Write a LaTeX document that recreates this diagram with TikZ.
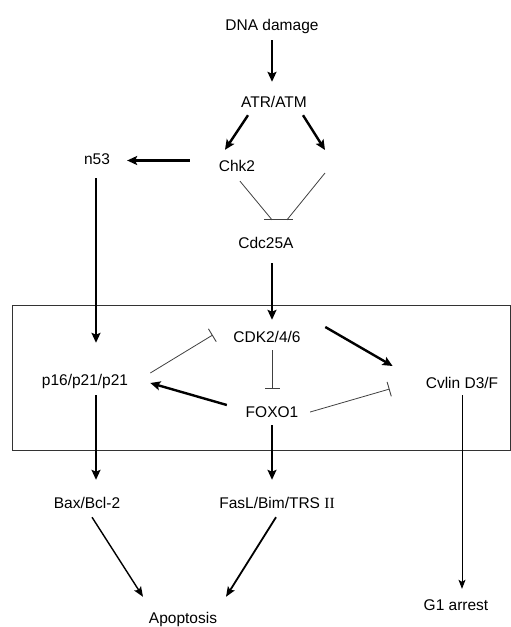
\documentclass[tikz,border=0pt]{standalone}
\usepackage{fontspec}
\setmainfont{Liberation Sans}
\newfontfamily\romanii{Liberation Serif}
\usetikzlibrary{arrows.meta,calc}
\tikzset{
  gene/.style={font=\fontsize{15.5}{18}\selectfont, inner sep=0pt,
               text height=11pt, text depth=3pt},
  act/.style={-{Stealth[length=10pt, width=9pt, inset=2pt]}, line width=2.4pt},
  actthin/.style={-{Stealth[length=10pt, width=8pt, inset=2pt]}, line width=1.4pt},
  actfine/.style={-{Stealth[length=9pt, width=7pt, inset=2pt]}, line width=0.9pt},
  inh/.style={-{Bar[width=15pt, line width=0.9pt]}, line width=0.8pt, black!75},
}
\begin{document}
\begin{tikzpicture}[x=1pt, y=-1pt]
  \useasboundingbox (0,0) rectangle (511,627);
  % the boxed cell-cycle module
  \node[draw=black!80, line width=1pt, minimum width=498pt, minimum height=145pt,
        inner sep=0pt] (cell) at (261,377.5) {};
  % upstream signalling
  \node[gene] (dna) at (272,26.5) {DNA damage};
  \node[gene] (atr) at (274,103.5) {ATR/ATM};
  \node[gene] (chk) at (237,167.5) {Chk2};
  \coordinate (rgt) at (325,162);
  \node[gene] (n53) at (97,160.5) {n53};
  \node[gene] (cdc) at (266,244.5) {Cdc25A};
  % inside the box
  \node[gene] (cdk) at (267,338.5) {CDK2/4/6};
  \node[gene] (p16) at (85,381.5) {p16/p21/p21};
  \node[gene] (cyc) at (462,384.5) {Cvlin D3/F};
  \node[gene] (foxo) at (272,413.5) {FOXO1};
  % outcomes
  \node[gene] (bax) at (87,504.5) {Bax/Bcl-2};
  \node[gene] (fas) at (277,504.5) {FasL/Bim/TRS {\romanii II}};
  \node[gene] (g1) at (456,606.5) {G1 arrest};
  \node[gene] (apop) at (183,619.5) {Apoptosis};
  % bar under the two Chk2 branches
  \coordinate (barL) at ($(cdc.north)+(-2,-17.5)$);
  \coordinate (barR) at ($(cdc.north)+(27,-17.5)$);
  % flows
  \draw[act, shorten <=6.5pt, shorten >=14.5pt] (dna) -- (dna |- atr.north);
  \draw[act] ($(atr.south)+(-26,4.5)$) -- ($(chk.north)+(-12,-10.5)$);
  \draw[act] ($(atr.south)+(29,4.5)$) -- ($(rgt)+(0,-12)$);
  \draw[act, shorten <=29pt, shorten >=17pt] (chk.west |- n53.east) -- (n53.east);
  \draw[act, shorten <=10.5pt, shorten >=31.5pt] ($(n53.south)+(-1,0)$) -- ($(n53.south |- p16.north)+(-1,0)$);
  \draw[black!75, line width=0.8pt] ($(chk.south)+(3,6.5)$) -- ($(cdc.north)+(6,-17.5)$);
  \draw[black!75, line width=0.8pt] ($(rgt)+(0,11)$) -- ($(cdc.north)+(21,-17.5)$);
  \draw[black!75, line width=1pt] (barL) -- (barR);
  \draw[act] ($(cdc.south)+(6,11.5)$) -- ($(cdk.north)+(5,-11.5)$);
  \draw[act] ($(cdk.east)+(24.5,-11.5)$) -- ($(cyc.west)+(-33,-18.5)$);
  \draw[inh] ($(p16.east)+(22,-8.5)$) -- ($(cdk.west)+(-20.5,-3.5)$);
  \draw[inh] ($(cdk.south)+(5,4.5)$) -- ($(foxo.north)+(0,-17.5)$);
  \draw[act] ($(foxo.west)+(-18.7,-8.5)$) -- ($(p16.east)+(22,1.5)$);
  \draw[inh] ($(foxo.east)+(11.7,-1.5)$) -- ($(cyc.west)+(-36,4.5)$);
  \draw[act, shorten <=6.5pt, shorten >=17.5pt] ($(n53.south |- p16.south)+(-1,0)$) -- ($(n53.south |- bax.north)+(-1,0)$);
  \draw[act, shorten <=4.5pt, shorten >=17.5pt] (foxo.south) -- (foxo.south |- fas.north);
  \draw[actfine, shorten <=3.5pt, shorten >=10.5pt] (cyc.south) -- (cyc.south |- g1.north);
  \draw[actthin] ($(bax.south)+(5,5.5)$) -- ($(apop.north)+(-40,-15.5)$);
  \draw[actthin, line width=1.8pt] ($(fas.south)+(-1,5.5)$) -- ($(apop.north)+(43,-15.5)$);
\end{tikzpicture}
\end{document}
